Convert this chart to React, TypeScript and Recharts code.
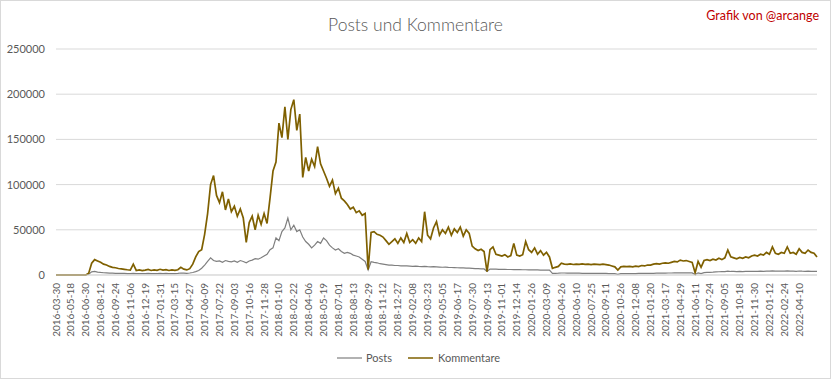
import React from "react";
import { LineChart, Line, XAxis, YAxis, CartesianGrid } from "recharts";

const tickLabels = [
  "2016-03-30","2016-05-18","2016-06-30","2016-08-12","2016-09-24","2016-11-06","2016-12-19",
  "2017-01-31","2017-03-15","2017-04-27","2017-06-09","2017-07-22","2017-09-03","2017-10-16","2017-11-28",
  "2018-01-10","2018-02-22","2018-04-06","2018-05-19","2018-07-01","2018-08-13","2018-09-29","2018-11-12","2018-12-27",
  "2019-02-08","2019-03-23","2019-05-05","2019-06-17","2019-07-30","2019-09-13","2019-11-01","2019-12-14",
  "2020-01-26","2020-03-09","2020-04-26","2020-06-10","2020-07-25","2020-09-11","2020-10-26","2020-12-08",
  "2021-01-20","2021-03-17","2021-04-29","2021-06-11","2021-07-24","2021-09-05","2021-10-18","2021-11-30",
  "2022-01-12","2022-02-24","2022-04-10",
];

const kommentare = [
  0,0,0,0,0,0,0,0,0,0,
  0,2000,13000,17000,15500,14000,12000,11000,9500,8500,
  8000,7200,6800,6300,5800,5500,12000,5000,5600,4800,
  5400,6200,5000,5700,5200,6300,5400,5900,5000,5600,
  5100,5800,8500,6500,5600,7000,12000,20000,26000,28000,
  45000,68000,100000,110000,88000,80000,92000,72000,84000,70000,
  76000,65000,73000,63000,36000,58000,65000,50000,66000,56000,
  68000,57000,85000,115000,125000,168000,152000,186000,150000,183000,
  194000,160000,178000,108000,130000,115000,128000,120000,142000,123000,
  115000,107000,98000,105000,90000,96000,85000,82000,78000,73000,
  75000,69000,71000,66000,68000,6000,47000,48000,45000,44000,
  42000,38000,34000,37000,40000,35000,41000,36000,46000,36000,
  39000,35000,41000,37000,70000,44000,40000,52000,59000,44000,
  50000,46000,53000,44000,51000,47000,53000,43000,50000,46000,
  32000,29000,27000,28500,26000,3600,28000,31000,23000,22000,
  21000,22500,20000,21500,35000,22000,21000,22500,37000,28000,
  25000,30000,23000,27000,22000,25000,20000,7400,8500,9500,
  13000,12000,11800,12200,11600,12000,11800,12300,11700,12000,
  11500,12100,11800,11400,12000,11500,11000,10000,9000,5500,
  9000,9500,9200,9600,9000,9800,9300,10500,10000,11000,
  11000,12000,12500,12000,13000,13500,13000,14000,15000,14500,
  16500,15500,16000,15000,14000,2500,15000,8500,16000,17000,
  16000,17500,16500,18500,17000,19000,27600,20000,19000,18000,
  19500,18500,20000,19000,21000,22000,21000,23000,22000,25000,
  23000,31000,24000,23000,25000,24000,31000,24000,25000,23000,
  29000,25000,24000,27600,25000,24000,20000,
];

const posts = [
  0,0,0,0,0,0,0,0,0,0,
  0,800,3500,4000,3200,2800,2500,2300,2100,2000,
  1900,1800,1700,1700,1600,1600,1700,1500,1600,1500,
  1600,1700,1500,1600,1500,1700,1600,1700,1500,1600,
  1600,1800,2200,2000,1800,2200,2800,3700,5000,7500,
  11000,15000,19000,16000,15000,15500,14000,16000,15000,14500,
  15500,14000,16000,15000,13500,15500,16500,18000,17500,19000,
  21000,23000,28000,30000,41000,38000,48000,52000,63000,50000,
  55000,48000,50000,42000,37000,34000,30000,33000,37000,35000,
  41000,38000,33000,30000,27600,29000,26000,24000,25000,24000,
  22000,21000,20000,17500,15000,5500,14700,14000,13500,12500,
  12000,11500,11000,11000,10500,10500,10000,10200,10000,9800,
  9600,9800,9500,9300,9500,9200,9000,9200,9000,8800,
  8600,8800,8500,8300,8200,8000,7900,7800,7600,7500,
  7300,7100,7000,6800,6700,4000,6600,6500,6500,6300,
  6300,6200,6100,6100,6000,6000,5900,5800,5800,5700,
  5700,5600,5600,5500,5500,5400,5300,1800,1900,2000,
  2200,2200,2100,2100,2000,2000,2000,1900,1900,1900,
  1800,1800,1800,1700,1700,1700,1600,1600,1500,800,
  1500,1500,1500,1600,1600,1600,1700,1700,1800,1800,
  1900,1900,2000,2000,2100,2100,2200,2200,2300,2300,
  2400,2400,2500,2400,2300,500,2400,1500,2600,2800,
  3000,3200,3500,3600,3700,3800,4200,3900,3900,3800,
  3900,3800,3900,4000,4000,4100,4000,4200,4100,4300,
  4200,4600,4300,4200,4300,4200,4500,4200,4300,4100,
  4400,4200,4100,4300,4100,4000,3900,
];

const yTicks = [0, 50000, 100000, 150000, 200000, 250000];
const pointsPerTick = 5;

const data = kommentare.map((k, i) => ({ i, posts: posts[i], kommentare: k }));
const xTicks = tickLabels.map((_, j) => j * pointsPerTick);

const FONT = "Lato, 'Open Sans', sans-serif";
const TEXT = "#595959";
const POSTS_COLOR = "#7f7f7f";
const KOMM_COLOR = "#7f6000";

const XTick = (props: any) => {
  const { x, y, payload } = props;
  const label = tickLabels[Math.round(payload.value / pointsPerTick)];
  return (
    <text
      x={x}
      y={y}
      transform={`rotate(-90 ${x} ${y})`}
      textAnchor="end"
      dy="0.35em"
      fill={TEXT}
      fontSize={10}
      fontFamily={FONT}
    >
      {label}
    </text>
  );
};

export default function App() {
  return (
    <div style={{ position: "absolute", left: 0, top: 0, width: 831, height: 379, background: "#fff" }}>
      <div style={{ position: "absolute", left: 0, top: 0, width: 829, height: 377, border: "1px solid #d9d9d9" }} />
      <LineChart
        width={831}
        height={379}
        data={data}
        margin={{ top: 49, right: 14, bottom: 0, left: 0 }}
      >
        <CartesianGrid horizontal vertical={false} stroke="#d9d9d9" />
        <XAxis
          dataKey="i"
          type="number"
          domain={[0, kommentare.length - 1]}
          ticks={xTicks}
          interval={0}
          tick={<XTick />}
          tickLine={false}
          axisLine={{ stroke: "#d9d9d9" }}
          height={104}
        />
        <YAxis
          domain={[0, 250000]}
          ticks={yTicks}
          width={56}
          tickLine={false}
          axisLine={false}
          tickMargin={5}
          tick={{ fill: TEXT, fontSize: 11, fontFamily: FONT }}
        />
        <Line type="linear" dataKey="posts" stroke={POSTS_COLOR} strokeWidth={1.2} dot={false} isAnimationActive={false} />
        <Line type="linear" dataKey="kommentare" stroke={KOMM_COLOR} strokeWidth={1.7} dot={false} isAnimationActive={false} />
      </LineChart>
      <div style={{ position: "absolute", left: 337, top: 351, display: "flex", alignItems: "center", fontFamily: FONT, fontSize: 11, color: TEXT }}>
        <svg width={25} height={10}><line x1={0} y1={5} x2={25} y2={5} stroke={POSTS_COLOR} strokeWidth={1.2} /></svg>
        <span style={{ marginLeft: 4 }}>Posts</span>
        <svg width={25} height={10} style={{ marginLeft: 16 }}><line x1={0} y1={5} x2={25} y2={5} stroke={KOMM_COLOR} strokeWidth={1.5} /></svg>
        <span style={{ marginLeft: 5 }}>Kommentare</span>
      </div>
      <div style={{ position: "absolute", left: 0, width: 831, top: 14, textAlign: "center", fontFamily: FONT, fontSize: 17.5, color: TEXT, fontWeight: 300 }}>
        Posts und Kommentare
      </div>
      <div style={{ position: "absolute", right: 12, top: 8, fontFamily: FONT, fontSize: 12.5, color: "#c00000" }}>
        Grafik von @arcange
      </div>
    </div>
  );
}
